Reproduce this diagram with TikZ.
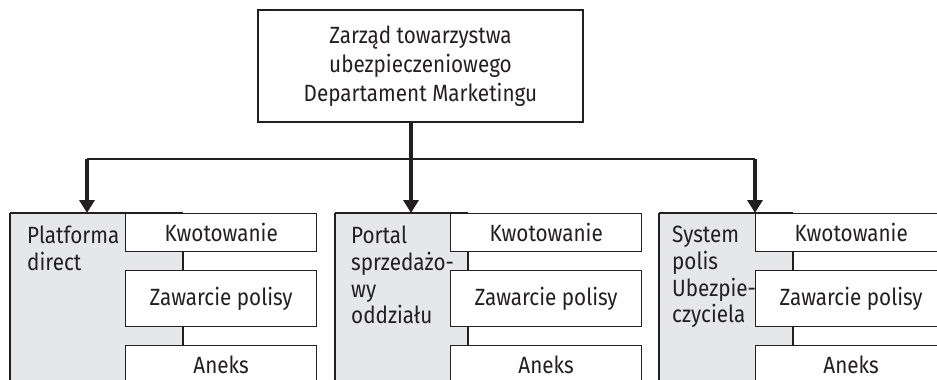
\documentclass[tikz,border=0pt]{standalone}
\usepackage{fontspec}
\setmainfont[FakeStretch=0.88]{Fira Sans}
\usetikzlibrary{arrows.meta}
\definecolor{ink}{HTML}{231F20}
\definecolor{panelgray}{HTML}{E6E7E8}
\begin{document}
\begin{tikzpicture}[x=1pt,y=-1pt,
  txt/.style={font=\fontsize{23.5}{26.7}\selectfont, text=ink},
  topbox/.style={txt, draw=ink, line width=1.8pt, minimum width=325pt, minimum height=112pt, align=center, inner sep=0pt, font=\fontsize{23.5}{29}\selectfont},
  graypanel/.style={fill=panelgray, inner sep=0pt, anchor=north west, minimum height=175pt},
  gleft/.style={draw=ink, line width=2.6pt},
  gtop/.style={draw=ink, line width=1.3pt},
  paneltext/.style={txt, align=left, anchor=north west, inner sep=0pt},
  wbox/.style={txt, draw=ink, fill=white, line width=1.3pt, inner sep=0pt, anchor=north west, minimum width=191pt},
  conn/.style={draw=ink, line width=2pt},
  bar/.style={draw=ink, line width=2pt},
  stem/.style={draw=ink, line width=4pt, -{Triangle[width=15pt,length=13pt]}},
]
\useasboundingbox (0,0) rectangle (937,380);
\clip (0,0) rectangle (937,380);

% top box
\node[topbox] (top) at (420.5,66) {Zarząd towarzystwa\\ubezpieczeniowego\\Departament Marketingu};

% gray panels
\node[graypanel, minimum width=173pt] (g1) at (10,213) {};
\node[graypanel, minimum width=133pt] (g2) at (335,213) {};
\node[graypanel, minimum width=134pt] (g3) at (659,213) {};
\foreach \g in {g1,g2,g3}{
  \draw[gleft] (\g.south west) -- (\g.north west);
  \draw[gtop] (\g.north west) -- (\g.north east);
}
\node[paneltext] (t1) at (27,226) {Platforma\\direct};
\node[paneltext] (t2) at (351,226) {Portal\\sprzedażo-\\wy\\oddziału};
\node[paneltext] (t3) at (672,226) {System\\polis\\Ubezpie-\\czyciela};

% white boxes
\foreach \p/\x in {1/125,2/450,3/755}{
  \node[wbox, minimum height=38pt] (k\p) at (\x,213) {Kwotowanie};
  \node[wbox, minimum height=56pt] (z\p) at (\x,270) {Zawarcie polisy};
  \node[wbox, minimum height=38pt] (n\p) at (\x,345) {Aneks};
  \draw[conn] (k\p.south -| g\p.east) -- (z\p.north -| g\p.east);
  \draw[conn] (z\p.south -| g\p.east) -- (n\p.north -| g\p.east);
}

% connectors
\coordinate (h1) at (87,159);
\coordinate (h3) at (755,159);
\coordinate (a1) at (87,213);
\coordinate (a2) at (411,213);
\coordinate (a3) at (755,213);
\draw[bar] (h1) -- (h3);
\draw[stem] (h1) -- (a1);
\draw[stem] (h3) -- (a3);
\draw[stem] (top.south -| a2) -- (a2);
\end{tikzpicture}
\end{document}
